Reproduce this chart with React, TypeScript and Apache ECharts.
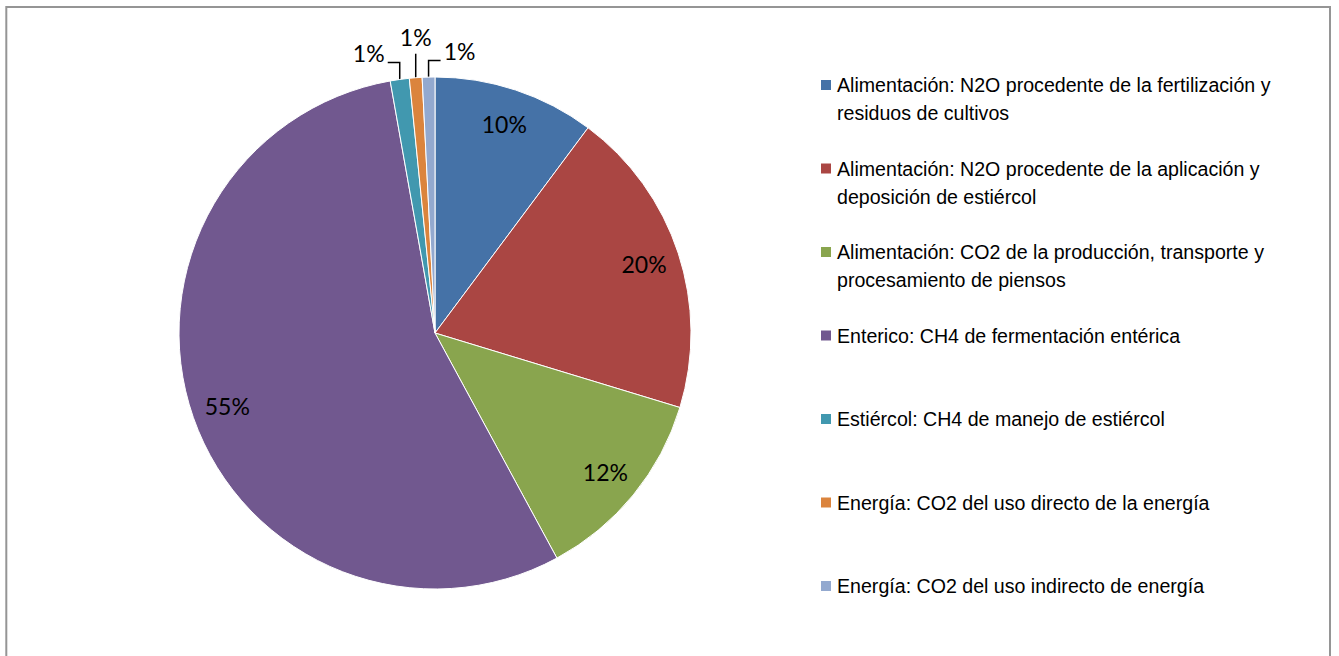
import React, { useEffect, useRef } from "react";
import * as echarts from "echarts";

// Emission sources (share of total, %)
const categories = [
  "Alimentación: N2O procedente de la fertilización y residuos de cultivos",
  "Alimentación: N2O procedente de la aplicación y deposición de estiércol",
  "Alimentación: CO2 de la producción, transporte y procesamiento de piensos",
  "Enterico: CH4 de fermentación entérica",
  "Estiércol: CH4 de manejo de estiércol",
  "Energía: CO2 del uso directo de la energía",
  "Energía: CO2 del uso indirecto de energía",
];

const shares = [10.2, 19.5, 12.4, 55.1, 1.2, 0.8, 0.8];

// Legend text, wrapped as shown in the legend box
const legendLines = [
  ["Alimentación: N2O procedente de la fertilización y", "residuos de cultivos"],
  ["Alimentación: N2O procedente de la aplicación y", "deposición de estiércol"],
  ["Alimentación: CO2 de la producción, transporte y", "procesamiento de piensos"],
  ["Enterico: CH4 de fermentación entérica"],
  ["Estiércol: CH4 de manejo de estiércol"],
  ["Energía: CO2 del uso directo de la energía"],
  ["Energía: CO2 del uso indirecto de energía"],
];

const colors = ["#4572A7", "#AA4643", "#89A54E", "#71588F", "#4198AF", "#DB843D", "#93A9CF"];

// Slices thin enough to get their label outside the pie, with a callout offset
// (label centre and elbow relative to the slice's outer edge point)
const calloutOffsets: Record<number, { elbow: number[]; end: number[]; label: number[] }> = {
  4: { elbow: [0, -17], end: [-12, -17], label: [-31, -26] },
  5: { elbow: [0, -12], end: [0, -24], label: [0, -41] },
  6: { elbow: [0, -16.5], end: [12, -16.5], label: [31, -26] },
};

const PCT_FONT = "Lato, 'Noto Sans', sans-serif";
const LEGEND_FONT = "'Liberation Sans', Arial, sans-serif";

// Every legend entry is laid out as a three-line block so that the first
// text line sits level with the colour swatch and all entries share a pitch.
const legendBlock = (lines: string[]) =>
  lines.length > 1 ? ["", ...lines].join("\n") : ["", lines[0], ""].join("\n");

export default function App() {
  const ref = useRef<HTMLDivElement>(null);

  useEffect(() => {
    if (!ref.current) return;
    const chart = echarts.init(ref.current, undefined, { renderer: "svg" });

    const pct = (p: any) => Math.round(p.percent) + "%";
    const isOutside = (i: number) => calloutOffsets[i] !== undefined;

    const mainData = categories.map((name, i) => ({
      name,
      value: shares[i],
      itemStyle: { color: colors[i] },
      label: { show: isOutside(i) },
      labelLine: { show: isOutside(i) },
    }));

    const innerLabelData = categories.map((name, i) => ({
      name,
      value: shares[i],
      label: { show: !isOutside(i) },
    }));

    chart.setOption({
      animation: false,
      backgroundColor: "#ffffff",
      graphic: [
        {
          type: "rect",
          shape: { x: 6.3, y: 7, width: 1323.7, height: 720 },
          style: { fill: "none", stroke: "#959595", lineWidth: 2 },
          silent: true,
          z: 100,
        },
      ],
      legend: {
        orient: "vertical",
        left: 819,
        top: 43,
        padding: 0,
        itemGap: -0.5,
        itemWidth: 12,
        itemHeight: 12,
        icon: "rect",
        selectedMode: false,
        data: categories,
        formatter: (name: string) => legendBlock(legendLines[categories.indexOf(name)]),
        textStyle: {
          fontFamily: LEGEND_FONT,
          fontSize: 19.6,
          lineHeight: 28,
          color: "#000000",
        },
      },
      series: [
        {
          name: "main",
          type: "pie",
          center: [435, 333],
          radius: 256,
          startAngle: 90,
          clockwise: true,
          avoidLabelOverlap: false,
          itemStyle: { borderColor: "#ffffff", borderWidth: 1 },
          label: {
            position: "outside",
            formatter: pct,
            fontFamily: PCT_FONT,
            fontSize: 23,
            color: "#000000",
          },
          labelLine: {
            show: true,
            length: 10,
            length2: 10,
            lineStyle: { color: "#000000", width: 1.5 },
          },
          labelLayout: (params: any) => {
            const off = calloutOffsets[params.dataIndex];
            if (!off || !params.labelLinePoints) return {};
            const [ax, ay] = params.labelLinePoints[0];
            return {
              x: ax + off.label[0],
              y: ay + off.label[1],
              align: "center",
              verticalAlign: "middle",
              labelLinePoints: [
                [ax, ay],
                [ax + off.elbow[0], ay + off.elbow[1]],
                [ax + off.end[0], ay + off.end[1]],
              ],
            };
          },
          emphasis: { disabled: true },
          data: mainData,
        },
        {
          name: "values",
          type: "pie",
          center: [435, 333],
          radius: [178, 256],
          startAngle: 90,
          clockwise: true,
          silent: true,
          avoidLabelOverlap: false,
          itemStyle: { color: "rgba(0,0,0,0)", borderWidth: 0 },
          label: {
            position: "inside",
            formatter: pct,
            fontFamily: PCT_FONT,
            fontSize: 23,
            color: "#000000",
          },
          labelLine: { show: false },
          emphasis: { disabled: true },
          data: innerLabelData,
        },
      ],
    });

    return () => chart.dispose();
  }, []);

  return (
    <div
      ref={ref}
      style={{ position: "absolute", left: 0, top: 0, width: 1339, height: 656 }}
    />
  );
}
